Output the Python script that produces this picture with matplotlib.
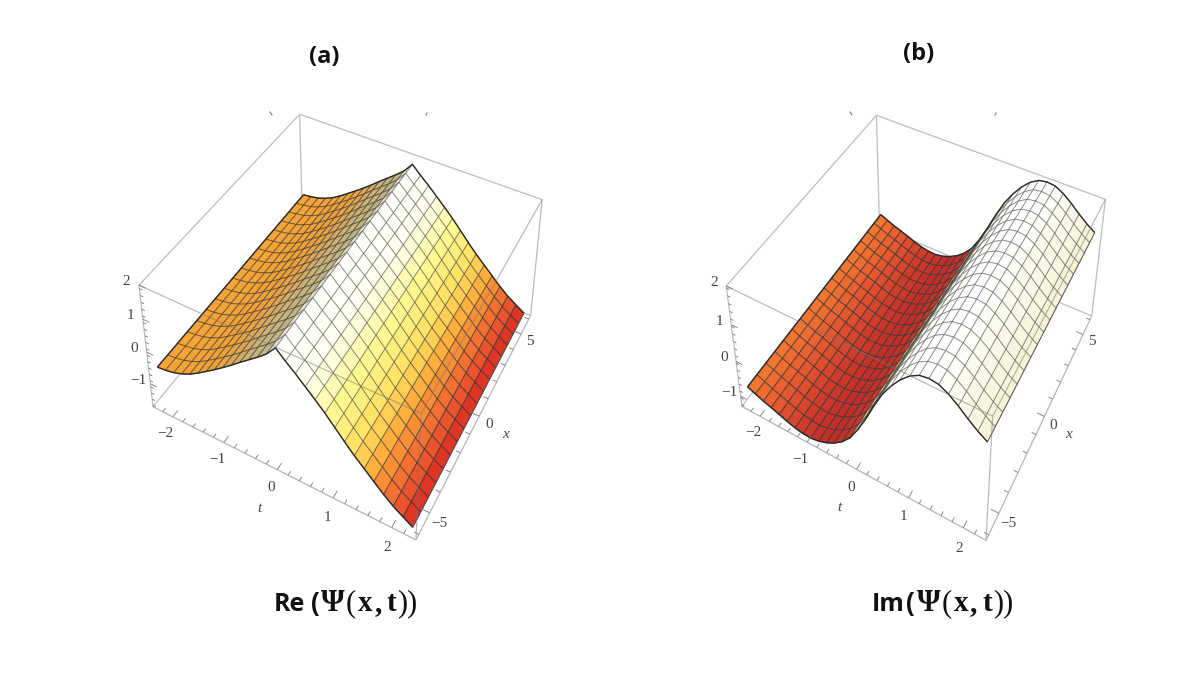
import numpy as np
import matplotlib
matplotlib.use("Agg")
import matplotlib.pyplot as plt
from matplotlib.colors import LinearSegmentedColormap
from matplotlib.lines import Line2D
from mpl_toolkits.mplot3d.art3d import Line3DCollection

W, H = 1196, 673

t_grid = [-2.3, -2.136, -1.971, -1.807, -1.643, -1.479, -1.314, -1.15, -0.986, -0.821,
          -0.657, -0.493, -0.329, -0.164, 0.0, 0.164, 0.329, 0.493, 0.657, 0.821,
          0.986, 1.15, 1.314, 1.479, 1.643, 1.807, 1.971, 2.136, 2.3]
x_grid = [-6.0, -5.29, -4.59, -3.88, -3.18, -2.47, -1.76, -1.06, -0.35, 0.35,
          1.06, 1.76, 2.47, 3.18, 3.88, 4.59, 5.29, 6.0]
re_profile = [-0.53, -0.50, -0.45, -0.36, -0.24, -0.08, 0.10, 0.28, 0.47, 0.67,
              0.88, 1.08, 1.28, 1.50, 1.80, 1.55, 1.32, 1.07, 0.82, 0.56,
              0.27, -0.02, -0.30, -0.55, -0.80, -1.05, -1.27, -1.45, -1.62]
im_profile = [-0.78, -0.87, -0.96, -1.03, -1.11, -1.19, -1.26, -1.30, -1.31, -1.27,
              -1.19, -1.07, -0.90, -0.66, -0.30, 0.12, 0.60, 1.02, 1.35, 1.62,
              1.83, 1.96, 2.00, 1.97, 1.85, 1.68, 1.48, 1.30, 1.15]
re_color_t = [-2.3, -1.2, -0.85, -0.5, -0.1, -0.07, 0.5, 0.9, 1.3, 1.6, 2.0, 2.3]
re_colors = ['#F7A535', '#F0A038', '#DCA858', '#C8B47C', '#BFB486', '#FFFFFF',
             '#FFFFEE', '#FFF990', '#FFE060', '#FFA838', '#F06030', '#D82820']
im_color_t = [-2.3, -1.8, -1.2, -0.6, -0.12, -0.07, 0.3, 0.8, 1.4, 2.3]
im_colors = ['#F57A30', '#E85A30', '#CE3A2A', '#C02C28', '#C83A2A', '#E8E4B0',
             '#F6F4D0', '#FFFFFF', '#FFFFFF', '#F4F3D4']
t_ticks_major = [-2, -1, 0, 1, 2]
x_ticks_major = [-5, 0, 5]
re_z_ticks = [-1, 0, 1, 2]
im_z_ticks = [-1, 0, 1, 2]

T_LIM = (-2.4, 2.4)
X_LIM = (-6.25, 6.25)


def fit_camera(world, pix):
    world = np.asarray(world, float)
    pix = np.asarray(pix, float)
    rows = []
    for (a, b, c), (u, v) in zip(world, pix):
        p = [a, b, c, 1.0]
        rows.append(p + [0, 0, 0, 0] + [-u * q for q in p])
        rows.append([0, 0, 0, 0] + p + [-v * q for q in p])
    _, _, vt = np.linalg.svd(np.array(rows))
    return vt[-1].reshape(3, 4)


def panel(box_px, corners, z_lim, z_ticks, profile, color_t, colors):
    left, top, size = box_px
    ax = fig.add_axes([left / W, 1 - (top + size) / H, size / W, size / H],
                      projection='3d', computed_zorder=False)
    ax.set_axis_off()
    ax.patch.set_alpha(0)
    ax.apply_aspect()

    t0, t1 = T_LIM
    x0, x1 = X_LIM
    z0, z1 = z_lim
    world = [(t0, x0, z0), (t1, x0, z0), (t1, x1, z0), (t0, x1, z0),
             (t0, x0, z1), (t1, x0, z1), (t1, x1, z1), (t0, x1, z1)]
    disp = np.array([[p[0], H - p[1]] for p in corners])
    dat = ax.transData.inverted().transform(disp)
    P = fit_camera(world, dat)
    P = P / P[2, 3]
    depth = P[2].copy()
    depth[3] -= 0.5
    M = np.vstack([P[0], P[1], depth, P[2]])
    ax.get_proj = lambda: M
    ax.M = M

    ax.set_xlim(*T_LIM)
    ax.set_ylim(*X_LIM)
    ax.set_zlim(*z_lim)

    def lines(segs, color, lw, zorder, alpha=None):
        col = Line3DCollection(segs, colors=color, linewidths=lw, zorder=zorder, alpha=alpha)
        ax.add_collection3d(col, autolim=False)
        col.set_clip_on(False)

    def label(t, x, z, s, **kw):
        v = M @ np.array([t, x, z, 1.0])
        ax.text2D(v[0] / v[3], v[1] / v[3], s, transform=ax.transData, clip_on=False,
                  family='Liberation Serif', fontsize=11, color='#444444',
                  ha='center', va='center', zorder=5, **kw)

    back = [(4, 7), (7, 6), (0, 4), (2, 6), (3, 7), (0, 3), (2, 3)]
    lines([[world[a], world[b]] for a, b in back], '#BDBDBD', 0.9, 1)

    tg = np.array(t_grid)
    xg = np.array(x_grid)
    pr = np.array(profile)
    Tm, Xm = np.meshgrid(tg, xg)
    Zm = np.tile(pr, (len(xg), 1))
    cmap = LinearSegmentedColormap.from_list(
        'c', [((c - color_t[0]) / (color_t[-1] - color_t[0]), col)
              for c, col in zip(color_t, colors)])
    mid = (tg[:-1] + tg[1:]) / 2
    norm = (mid - color_t[0]) / (color_t[-1] - color_t[0])
    strip = cmap(norm)
    fc = np.tile(strip, (len(xg) - 1, 1, 1))
    surf = ax.plot_surface(Tm, Xm, Zm, facecolors=fc, rstride=1, cstride=1, shade=False,
                           edgecolor='k', linewidth=0.7, antialiased=True, zorder=2)
    lum = strip[:, :3] @ np.array([0.3, 0.59, 0.11])
    edge = np.zeros_like(strip)
    edge[:, :3] = 0.2
    edge[:, 3] = np.interp(lum, [0.45, 0.97], [0.72, 0.42])
    surf.set_edgecolor(np.tile(edge, (len(xg) - 1, 1)))

    outline = [np.column_stack([tg, np.full_like(tg, xg[0]), pr]),
               np.column_stack([tg, np.full_like(tg, xg[-1]), pr]),
               np.array([[tg[0], xg[0], pr[0]], [tg[0], xg[-1], pr[0]]])]
    lines(outline, '#2A2A2A', 1.0, 3)
    lines([np.array([[tg[-1], xg[0], pr[-1]], [tg[-1], xg[-1], pr[-1]]])], '#555555', 0.6, 3)

    see = [(4, 5), (5, 6), (1, 5)]
    lines([[world[a], world[b]] for a, b in see], '#777777', 0.8, 3, alpha=0.55)
    lines([[world[0], world[1]], [world[1], world[2]]], '#B5B5B5', 0.9, 4)

    ticks = []
    for v in np.arange(-2.2, 2.21, 0.2):
        major = abs(v - round(v)) < 1e-6
        ticks.append([(v, x0, z0), (v, x0 + (0.35 if major else 0.2), z0)])
    for v in range(-6, 7):
        major = v % 5 == 0
        ticks.append([(t1, v, z0), (t1 - (0.14 if major else 0.08), v, z0)])
    for v in np.arange(z0 + 0.05, z1, 0.2):
        ticks.append([(t0, x0, v), (t0 + 0.06, x0, v)])
    for v in z_ticks:
        ticks.append([(t0, x0, v), (t0 + 0.13, x0, v)])
    lines(ticks, '#777777', 0.6, 4)

    for v in t_ticks_major:
        label(v + 0.08, x0 - 0.8, z0, str(v).replace('-', '\u2212'))
    for v in x_ticks_major:
        label(t1 + 0.2, v - 0.2, z0, str(v).replace('-', '\u2212'))
    for v in z_ticks:
        label(t0 - 0.22, x0 - 0.1, v, str(v).replace('-', '\u2212'))
    label(0.1, x0 - 1.75, z0, 't', style='italic')
    label(t1 + 0.5, -0.3, z0, 'x', style='italic')
    return ax


def rich(x, y, pieces):
    r = fig.canvas.get_renderer()
    cur = x
    for s, fam, weight, size, gap in pieces:
        t = fig.text(cur / W, 1 - y / H, s, family=fam, weight=weight, fontsize=size,
                     ha='left', va='baseline', color='#111111')
        cur = t.get_window_extent(r).x1 + gap


fig = plt.figure(figsize=(W / 100, H / 100), dpi=100)
fig.patch.set_facecolor('white')

panel((60, 60, 540),
      [(154, 408), (415, 540), (530, 317), (303, 222),
       (138, 285), (422, 412), (543, 199), (299, 116)],
      (-1.75, 2.0), re_z_ticks, re_profile, re_color_t, re_colors)
panel((640, 60, 540),
      [(741, 407), (986, 539), (1092, 317), (880, 226),
       (727, 285), (993, 418), (1105, 198), (876, 116)],
      (-1.3, 2.0), im_z_ticks, im_profile, im_color_t, im_colors)

SANS = 'Open Sans'
SERIF = 'Liberation Serif'
fig.text(324 / W, 1 - 57 / H, '(a)', family=SANS, weight='bold', fontsize=17,
         ha='center', va='center', color='#111111')
fig.text(919 / W, 1 - 54 / H, '(b)', family=SANS, weight='bold', fontsize=17,
         ha='center', va='center', color='#111111')

tail = [('\u03a8', SERIF, 'bold', 22, 1), ('(', SERIF, 'normal', 22, 2),
        ('x', SERIF, 'bold', 21, 2), (',', SERIF, 'bold', 21, 5),
        ('t', SERIF, 'bold', 21, 1), ('))', SERIF, 'normal', 22, 0)]
rich(274, 611, [('Re', SANS, 'bold', 18, 6), ('(', SANS, 'bold', 19, 1)] + tail)
rich(872, 611, [('Im', SANS, 'bold', 18, 1), ('(', SANS, 'bold', 19, 2)] + tail)

for (a, b) in [((270, 112), (272, 115)), ((426, 115), (427, 113)),
               ((850, 112), (852, 115)), ((995, 115), (996, 113))]:
    fig.add_artist(Line2D([a[0] / W, b[0] / W], [1 - a[1] / H, 1 - b[1] / H],
                          color='#777777', lw=0.8))

fig.savefig('out.png', dpi=100, facecolor='white')
